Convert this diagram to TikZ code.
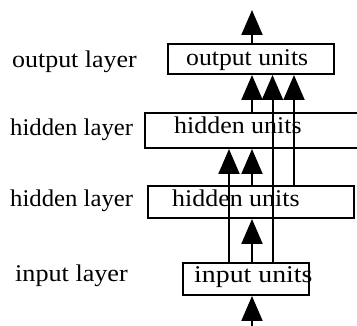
\documentclass[tikz,border=0pt]{standalone}
\usepackage{fontspec}
\setmainfont{Liberation Serif}
\usetikzlibrary{arrows.meta}
% text widened horizontally by a given factor
\newcommand\widetext[2]{\scalebox{#1}[1]{#2}}
\begin{document}
\begin{tikzpicture}[x=1pt,y=-1pt,
  unitbox/.style={draw, line width=2pt, inner sep=0pt},
  txt/.style={font=\fontsize{24}{28}\selectfont, anchor=base west, inner sep=0pt},
  feed/.style={line width=2pt, -{Triangle[width=21pt,length=25pt]}}]
\useasboundingbox (0,0) rectangle (357,326);
\clip (0,0) rectangle (357,326);

% layer labels
\node[txt] (lout) at (12,68) {\widetext{1.08}{output layer}};
\node[txt] (lhtwo) at (10,136) {\widetext{1.03}{hidden layer}};
\node[txt] (lhone) at (10,207) {\widetext{1.03}{hidden layer}};
\node[txt] (lin) at (15,282) {\widetext{1.09}{input layer}};

% unit boxes
\node[unitbox, minimum width=166pt, minimum height=30pt] (outbox) at (251,59) {};
\node[unitbox, minimum width=235pt, minimum height=35pt] (hidtwo) at (262.5,130.5) {};
\node[unitbox, minimum width=206pt, minimum height=32pt] (hidone) at (250.5,202) {};
\node[unitbox, minimum width=126pt, minimum height=32pt] (inbox) at (246,279) {};

% unit texts
\node[txt] (tout) at (186,66) {\widetext{1.07}{output units}};
\node[txt] (thtwo) at (174,134) {\widetext{1.08}{hidden units}};
\node[txt] (thone) at (172,207) {\widetext{1.08}{hidden units}};
\node[txt] (tin) at (194,283) {\widetext{1.16}{input units}};

% column positions of the connections
\coordinate (ca) at (229,0);
\coordinate (cb) at (252,0);
\coordinate (cc) at (272.5,0);
\coordinate (cd) at (294,0);
\coordinate (src) at (252,326);
\coordinate (sink) at (252,10);

% connections
\draw[feed] (src) -- (inbox.south -| src);
\draw[feed] (inbox.north -| cb) -- (hidone.south -| cb);
\draw[feed] (inbox.north -| ca) -- (hidtwo.south -| ca);
\draw[feed] (inbox.north -| cc) -- (outbox.south -| cc);
\draw[feed] (hidone.north -| cb) -- (hidtwo.south -| cb);
\draw[feed] (hidone.north -| cd) -- (outbox.south -| cd);
\draw[feed] (hidtwo.north -| cb) -- (outbox.south -| cb);
\draw[feed] (outbox.north -| sink) -- (sink);
\end{tikzpicture}
\end{document}
